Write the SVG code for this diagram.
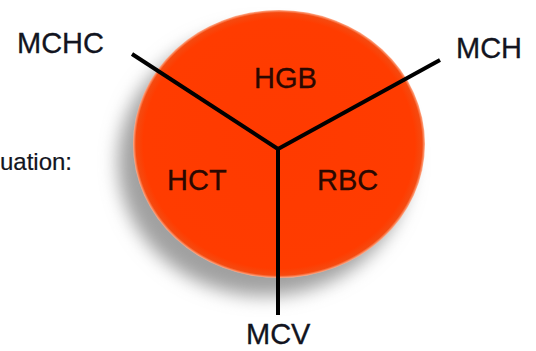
<svg xmlns="http://www.w3.org/2000/svg" width="536" height="351" viewBox="0 0 536 351">
  <style>
    .lbl { font-family: "Liberation Sans", Arial, sans-serif; font-size: 29px; fill: #121420; stroke: #121420; stroke-width: 0.3; }
    .inner { font-family: "Liberation Sans", Arial, sans-serif; font-size: 29px; fill: #2a0800; stroke: #2a0800; stroke-width: 0.3; }
    .conn { stroke: #000; stroke-width: 4; stroke-linecap: butt; fill: none; }
  </style>
  <defs>
    <filter id="shadow" x="-30%" y="-30%" width="160%" height="160%">
      <feGaussianBlur stdDeviation="9"/>
    </filter>
    <radialGradient id="disc" cx="50%" cy="50%" r="50%">
      <stop offset="0%" stop-color="#ff3a00"/>
      <stop offset="93%" stop-color="#ff3c00"/>
      <stop offset="98%" stop-color="#f54a10"/>
      <stop offset="100%" stop-color="#ffb090"/>
    </radialGradient>
  </defs>
  <rect width="536" height="351" fill="#ffffff"/>
  <g id="disc-node">
    <ellipse cx="264" cy="162" rx="146" ry="134" fill="#a0a0a0" filter="url(#shadow)"/>
    <ellipse cx="279" cy="144" rx="146" ry="134" fill="url(#disc)"/>
  </g>
  <g id="connectors">
    <line class="conn" x1="132" y1="54" x2="278" y2="149"/>
    <line class="conn" x1="440" y1="60" x2="278" y2="149"/>
    <line class="conn" x1="278" y1="147" x2="278" y2="315"/>
  </g>
  <g id="node-hgb"><text class="inner" x="254" y="88">HGB</text></g>
  <g id="node-hct"><text class="inner" x="167" y="190">HCT</text></g>
  <g id="node-rbc"><text class="inner" x="317" y="190">RBC</text></g>
  <g id="node-mchc"><text class="lbl" x="17" y="53">MCHC</text></g>
  <g id="node-mch"><text class="lbl" x="456" y="58">MCH</text></g>
  <g id="node-mcv"><text class="lbl" x="246" y="344">MCV</text></g>
  <g id="caption"><text class="lbl" x="72" y="170" text-anchor="end" style="font-size:24px;stroke-width:0.2">uation:</text></g>
</svg>
